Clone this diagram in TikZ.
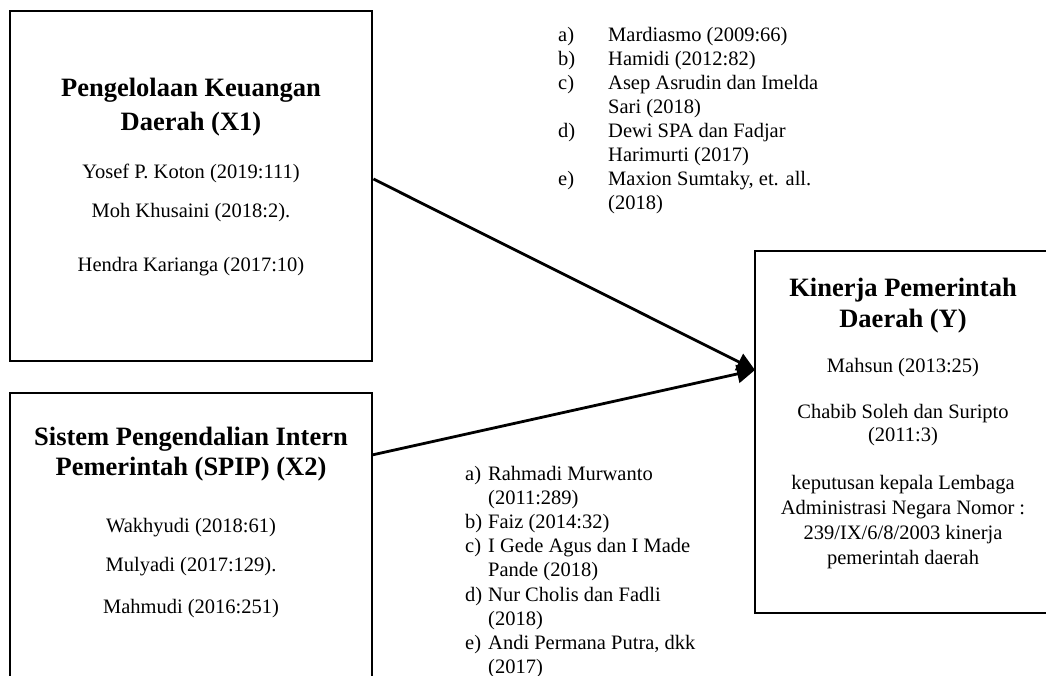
\documentclass[tikz,border=0pt]{standalone}
\usepackage{fontspec}
\setmainfont{Liberation Serif}
\usetikzlibrary{arrows.meta}
\begin{document}
\begin{tikzpicture}[x=1pt,y=-1pt,
  box/.style={draw, line width=2.8pt, rectangle, inner sep=0pt},
  ttl/.style={anchor=base, inner sep=0pt, font=\fontsize{26.5}{32}\selectfont\bfseries},
  txt/.style={anchor=base, inner sep=0pt, font=\fontsize{20.5}{24}\selectfont},
  lbl/.style={anchor=base west, inner sep=0pt, font=\fontsize{20.5}{24}\selectfont},
  conn/.style={line width=2.8pt, -{Triangle[length=18pt,width=18pt]}}]
\useasboundingbox (0,0) rectangle (1046,676);
\clip (0,0) rectangle (1046,676);
% boxes
\node[box, minimum width=362pt, minimum height=350pt] (x1) at (191,186) {};
\node[box, minimum width=362pt, minimum height=347pt] (x2) at (191,566.5) {};
\node[box, minimum width=296pt, minimum height=362pt] (yb) at (903,432) {};
% X1 texts
\node[ttl] (x1t1) at (191,97) {Pengelolaan Keuangan};
\node[ttl] (x1t2) at (191,131) {Daerah (X1)};
\node[txt] (x1a) at (191,179) {Yosef P. Koton (2019:111)};
\node[txt] (x1b) at (191,218) {Moh Khusaini (2018:2).};
\node[txt] (x1c) at (191,272) {Hendra Karianga (2017:10)};
% X2 texts
\node[ttl] (x2t1) at (191,445) {Sistem Pengendalian Intern};
\node[ttl] (x2t2) at (191,475) {Pemerintah (SPIP) (X2)};
\node[txt] (x2a) at (191,532) {Wakhyudi (2018:61)};
\node[txt] (x2b) at (191,571) {Mulyadi (2017:129).};
\node[txt] (x2c) at (191,613) {Mahmudi (2016:251)};
% Y texts
\node[ttl] (yt1) at (903,296) {Kinerja Pemerintah};
\node[ttl] (yt2) at (903,327) {Daerah (Y)};
\node[txt] (ya) at (903,372) {Mahsun (2013:25)};
\node[txt] (yb1) at (903,418) {Chabib Soleh dan Suripto};
\node[txt] (yb2) at (903,441) {(2011:3)};
\node[txt] (yc1) at (903,489) {keputusan kepala Lembaga};
\node[txt] (yc2) at (903,514) {Administrasi Negara Nomor :};
\node[txt] (yc3) at (903,539) {239/IX/6/8/2003 kinerja};
\node[txt] (yc4) at (903,564) {pemerintah daerah};
% top list
\node[lbl] (ta) at (558,42) {a)};
\node[lbl] (tat) at (608,42) {Mardiasmo (2009:66)};
\node[lbl] (tb) at (558,66) {b)};
\node[lbl] (tbt) at (608,66) {Hamidi (2012:82)};
\node[lbl] (tc) at (558,90) {c)};
\node[lbl] (tct1) at (608,90) {Asep Asrudin dan Imelda};
\node[lbl] (tct2) at (608,114) {Sari (2018)};
\node[lbl] (td) at (558,138) {d)};
\node[lbl] (tdt1) at (608,138) {Dewi SPA dan Fadjar};
\node[lbl] (tdt2) at (608,162) {Harimurti (2017)};
\node[lbl] (te) at (558,186) {e)};
\node[lbl] (tet1) at (608,186) {Maxion Sumtaky, et. all.};
\node[lbl] (tet2) at (608,210) {(2018)};
% bottom list
\node[lbl] (ba) at (465,480) {a)};
\node[lbl] (bat1) at (488,480) {Rahmadi Murwanto};
\node[lbl] (bat2) at (488,504.2) {(2011:289)};
\node[lbl] (bb) at (465,528.4) {b)};
\node[lbl] (bbt) at (488,528.4) {Faiz (2014:32)};
\node[lbl] (bc) at (465,552.6) {c)};
\node[lbl] (bct1) at (488,552.6) {I Gede Agus dan I Made};
\node[lbl] (bct2) at (488,576.8) {Pande (2018)};
\node[lbl] (bd) at (465,601) {d)};
\node[lbl] (bdt1) at (488,601) {Nur Cholis dan Fadli};
\node[lbl] (bdt2) at (488,625.2) {(2018)};
\node[lbl] (be) at (465,649.4) {e)};
\node[lbl] (bet1) at (488,649.4) {Andi Permana Putra, dkk};
\node[lbl] (bet2) at (488,673.6) {(2017)};
% connectors
\coordinate (tip) at (755,370);
\coordinate (s2) at (372,455);
\draw[conn] ([yshift=7pt]x1.east) -- (tip);
\draw[conn] (s2) -- (tip);
\end{tikzpicture}
\end{document}
